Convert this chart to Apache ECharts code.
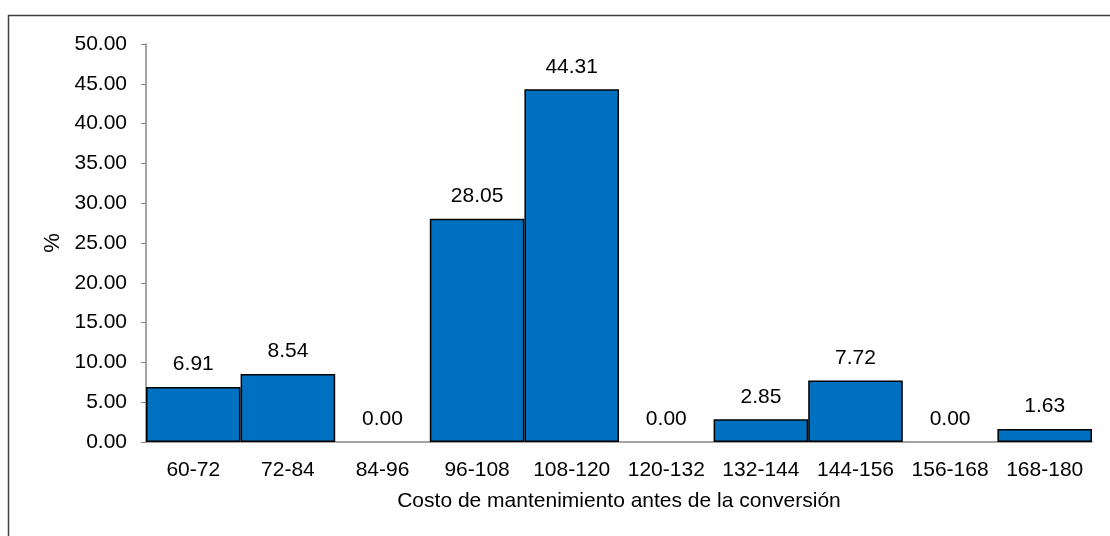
<!DOCTYPE html>
<html>
    <head>
        <meta charset="utf-8" />
        <script src="https://cdn.jsdelivr.net/npm/echarts@6/dist/echarts.min.js"></script>
    </head>
    <body style="margin: 0">
        <style>
            html,
            body,
            #main {
                width: 1110px;
                height: 536px;
                background: #fff;
            }
        </style>
        <div id="main"></div>
        <script>
            // rangos de costo y porcentaje de cada rango
            var categories = ["60-72", "72-84", "84-96", "96-108", "108-120",
                "120-132", "132-144", "144-156", "156-168", "168-180"];
            var percents = [6.91, 8.54, 0.0, 28.05, 44.31, 0.0, 2.85, 7.72, 0.0, 1.63];

            var font = "Liberation Sans, Arial, sans-serif";
            var chart = echarts.init(document.getElementById("main"));

            // las barras en cero no llevan borde (se ve el eje)
            var barData = percents.map(function (v) {
                return {
                    value: v,
                    itemStyle: { borderWidth: v === 0 ? 0 : 1.5 },
                };
            });

            chart.setOption({
                animation: false,
                textStyle: { fontFamily: font },
                graphic: [
                    {
                        // borde del area del grafico
                        type: "rect",
                        shape: { x: 8.5, y: 15.5, width: 1300, height: 700 },
                        style: { fill: null, stroke: "#404040", lineWidth: 1.5 },
                        silent: true,
                    },
                ],
                grid: {
                    left: 146,
                    right: 18,
                    top: 44,
                    bottom: 94,
                },
                xAxis: {
                    type: "category",
                    data: categories,
                    name: "Costo de mantenimiento antes de la conversión",
                    nameLocation: "middle",
                    nameGap: 49,
                    nameTextStyle: { fontSize: 21, color: "#000", fontFamily: font },
                    axisLine: { lineStyle: { color: "#868686", width: 1.5 } },
                    axisTick: { show: false },
                    axisLabel: { fontSize: 21, color: "#000", margin: 18, interval: 0, fontFamily: font },
                },
                yAxis: {
                    type: "value",
                    min: 0,
                    max: 50,
                    interval: 5,
                    name: "%",
                    nameLocation: "middle",
                    nameGap: 79,
                    nameTextStyle: { fontSize: 22, color: "#000", fontFamily: font },
                    axisLine: { show: true, lineStyle: { color: "#868686", width: 1.5 } },
                    axisTick: { show: true, length: 5, lineStyle: { color: "#868686" } },
                    splitLine: { show: false },
                    axisLabel: {
                        fontSize: 21,
                        color: "#000",
                        margin: 19,
                        fontFamily: font,
                        formatter: function (v) {
                            return v.toFixed(2);
                        },
                    },
                },
                series: [
                    {
                        type: "bar",
                        data: barData,
                        barCategoryGap: "0%",
                        itemStyle: {
                            color: "#0070C0",
                            borderColor: "#000",
                            borderWidth: 1.5,
                        },
                        label: {
                            show: true,
                            position: "top",
                            distance: 12,
                            fontSize: 21,
                            color: "#000",
                            fontFamily: font,
                            formatter: function (p) {
                                return p.value.toFixed(2);
                            },
                        },
                    },
                ],
            });
        </script>
    </body>
</html>
